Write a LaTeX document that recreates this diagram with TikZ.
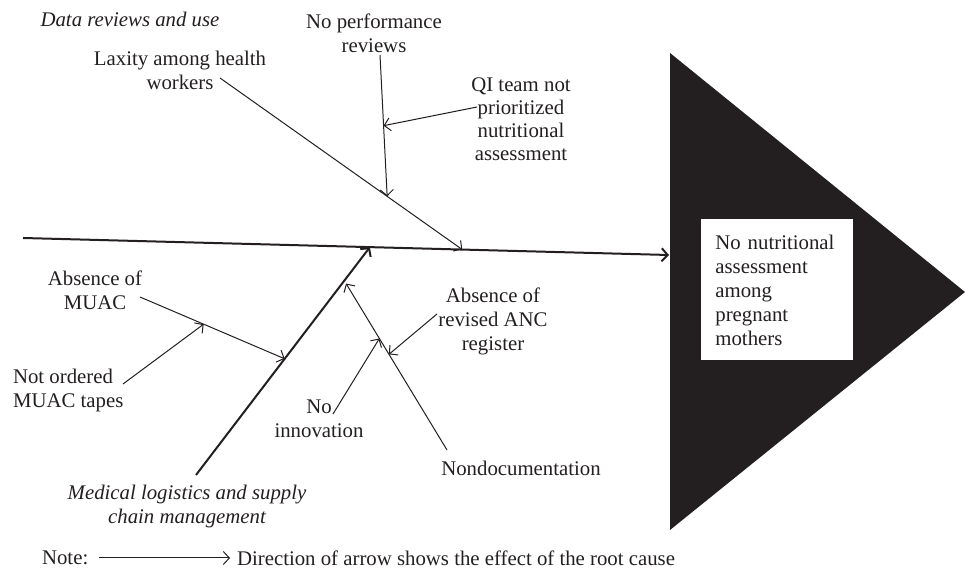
\documentclass[tikz,border=0pt]{standalone}
\usepackage{fontspec}
\setmainfont{Liberation Serif}
\usetikzlibrary{arrows.meta,calc,positioning}
\definecolor{ink}{RGB}{35,31,32}

\begin{document}
\begin{tikzpicture}[x=0.5pt, y=-0.5pt, >={Straight Barb[length=3pt,width=6.5pt]},
	every node/.style={font=\fontsize{10.4}{12}\selectfont, text=ink, align=center},
	cat/.style={font=\fontsize{10.4}{12}\selectfont\itshape},
	bone/.style={draw=ink, line width=1pt, ->},
	twig/.style={draw=ink, line width=0.5pt, ->},
	effectbox/.style={fill=white, text width=62pt, align=left, inner xsep=7pt,
		minimum height=70.5pt, anchor=north west}
]
\useasboundingbox (0,0) rectangle (965,571);

% head and spine
\fill[ink] (670,53) -- (965,292) -- (670,530) -- cycle;
\node[effectbox] (effect) at (701,219) {No nutritional\\assessment\\among\\pregnant\\mothers};
\coordinate (spineL) at (23,238);
\coordinate (spineR) at (669,255);
\draw[bone] (spineL) -- (spineR);

% data reviews and use
\node[cat] (data) at (130,19) {Data reviews and use};
\node (lax) at (180,70.5) {Laxity among health\\workers};
\node (perf) at (374,33) {No performance\\reviews};
\node[font=\fontsize{10.4}{11.5}\selectfont] (qi) at (521,119) {QI team not\\prioritized\\nutritional\\assessment};
\coordinate (lax0) at (220,78);
\coordinate (lax1) at ($(spineL)!0.68!(spineR)$);
\coordinate (perf0) at (380,55);
\coordinate (perf1) at ($(lax0)!0.69!(lax1)$);
\coordinate (qi0) at (477,107);
\coordinate (qi1) at ($(perf0)!0.5!(perf1)$);
\draw[twig] (lax0) -- (lax1);
\draw[twig] (perf0) -- (perf1);
\draw[twig] (qi0) -- (qi1);

% medical logistics and supply chain
\node[cat] (med) at (187,506.5) {Medical logistics and supply\\chain management};
\node (muac) at (95,290.5) {Absence of\\MUAC};
\node[align=left, anchor=west] (tape) at (6,390.5) {Not ordered\\MUAC tapes};
\node (doc) at (521,468) {Nondocumentation};
\node (inno) at (319,418.5) {No\\innovation};
\node (anc) at (493,321) {Absence of\\revised ANC\\register};
\coordinate (med0) at (196,475);
\coordinate (med1) at ($(spineL)!0.537!(spineR)$);
\coordinate (muac0) at (140,297);
\coordinate (muac1) at ($(med0)!0.51!(med1)$);
\coordinate (tape0) at (123,384);
\coordinate (tape1) at ($(muac0)!0.44!(muac1)$);
\coordinate (doc0) at (447,450);
\coordinate (doc1) at ($(med0)!0.84!(med1)+(4,0)$);
\coordinate (inno0) at (333,414);
\coordinate (inno1) at ($(doc0)!0.67!(doc1)$);
\coordinate (anc0) at (437,314);
\coordinate (anc1) at ($(doc0)!0.575!(doc1)$);
\draw[bone] (med0) -- (med1);
\draw[twig] (muac0) -- (muac1);
\draw[twig] (tape0) -- (tape1);
\draw[twig] (doc0) -- (doc1);
\draw[twig] (inno0) -- (inno1);
\draw[twig] (anc0) -- (anc1);

% legend
\node[anchor=west] (note) at (35,558) {Note:};
\node[anchor=west] (dir) at (230,558) {Direction of arrow shows the effect of the root cause};
\draw[twig, shorten <=2pt] (note.east) -- (dir.west);
\end{tikzpicture}
\end{document}
